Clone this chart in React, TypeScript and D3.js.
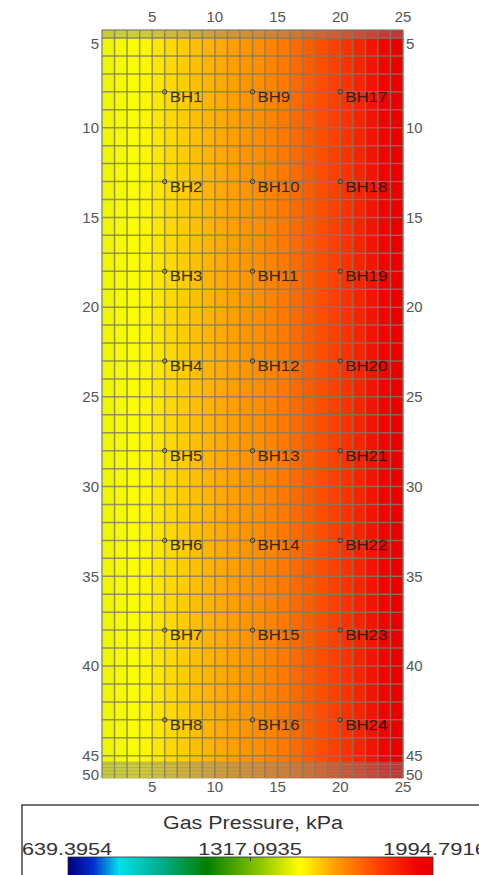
import React from "react";
import * as d3 from "d3";

// ---- data ----
const xTicks = [5, 10, 15, 20, 25];
const yTicks = [5, 10, 15, 20, 25, 30, 35, 40, 45, 50];
// gas pressure (kPa) per grid column, x = 1..25 (24 cells)
const columnPressure = [
  1478, 1486, 1496, 1514, 1534, 1550, 1568, 1585, 1602, 1618, 1632, 1645,
  1659, 1676, 1697, 1720, 1744, 1768, 1794, 1824, 1857, 1893, 1934, 1975,
];
const xGrid = d3.range(1, 26);
const mainRowEdges = [...d3.range(5, 46), 45.35];
const topBandEdges = [4.55, 5];
const bottomBandEdges = [45.35, 46, 47, 48, 49, 50];
const bhCols = [6, 13, 20];
const bhRows = [8, 13, 18, 23, 28, 33, 38, 43];
const pMin = 639.3954;
const pMid = 1317.0935;
const pMax = 1994.7916;
const cbLabels = ["639.3954", "1317.0935", "1994.7916"];
const cmapStops = [0, 0.07, 0.14, 0.25, 0.38, 0.53, 0.635, 0.73, 0.85, 0.96, 1];
const cmapColors = [
  "#00007a", "#0030d0", "#00e0e8", "#00b090", "#008000", "#90c800",
  "#ffff00", "#ffa000", "#ff4000", "#f00000", "#e80000",
];

const W = 479;
const H = 875;
const FONT = "'Liberation Sans', Arial, Helvetica, sans-serif";

export default function App() {
  const x = d3.scaleLinear().domain([1, 25]).range([102, 403]);
  const y = d3
    .scaleLinear()
    .domain([4.55, 5, 45.35, 50])
    .range([30, 38, 762, 778]);
  const color = d3
    .scaleLinear<string>()
    .domain(cmapStops.map((t) => pMin + t * (pMax - pMin)))
    .range(cmapColors)
    .interpolate(d3.interpolateRgb);
  const grey = (c: string) => d3.interpolateRgb(c, "#8a8a8a")(0.4);

  const cells: React.ReactNode[] = [];
  columnPressure.forEach((p, i) => {
    const x0 = x(xGrid[i]);
    const x1 = x(xGrid[i + 1]);
    const c = color(p);
    const addRows = (edges: number[], fill: string, key: string) => {
      for (let k = 0; k < edges.length - 1; k++) {
        const y0 = y(edges[k]);
        const y1 = y(edges[k + 1]);
        cells.push(
          <rect key={`${key}-${i}-${k}`} x={x0} y={y0} width={x1 - x0 + 0.3} height={y1 - y0 + 0.3} fill={fill} />
        );
      }
    };
    addRows(mainRowEdges, c, "m");
    addRows(topBandEdges, grey(c), "t");
    addRows(bottomBandEdges, grey(c), "b");
  });

  const mainLines = [...topBandEdges, ...mainRowEdges.slice(1, -1)];
  const bandLines = bottomBandEdges;
  const yTop = y(4.55);
  const yBot = y(50);

  const cbX0 = 68;
  const cbX1 = 433;
  const cbPos = d3.scaleLinear().domain([pMin, pMax]).range([cbX0, cbX1]);

  const labelY = (v: number) => Math.min(Math.max(y(v), 44), 775);

  return (
    <svg width={W} height={H} style={{ position: "absolute", left: 0, top: 0, background: "#fff" }} fontFamily={FONT}>
      <defs>
        <linearGradient id="cmap" x1="0" x2="1" y1="0" y2="0">
          {cmapStops.map((t, i) => (
            <stop key={i} offset={t} stopColor={cmapColors[i]} />
          ))}
        </linearGradient>
      </defs>
      <g>{cells}</g>
      <g stroke="#7a7a6a" strokeWidth={1.5} strokeOpacity={0.8}>
        {xGrid.map((v) => (
          <line key={`gx${v}`} x1={x(v)} x2={x(v)} y1={yTop} y2={yBot} />
        ))}
        {mainLines.map((v, i) => (
          <line key={`gy${i}`} x1={x(1)} x2={x(25)} y1={y(v)} y2={y(v)} />
        ))}
      </g>
      <g stroke="#7a7a6a" strokeWidth={0.8} strokeOpacity={0.45}>
        {bandLines.map((v, i) => (
          <line key={`by${i}`} x1={x(1)} x2={x(25)} y1={y(v)} y2={y(v)} />
        ))}
      </g>
      {/* boreholes */}
      <g>
        {bhCols.map((cx, ci) =>
          bhRows.map((ry, ri) => {
            const px = x(cx);
            const py = y(ry);
            const name = `BH${ci * bhRows.length + ri + 1}`;
            return (
              <g key={name}>
                <circle cx={px} cy={py} r={2.2} fill="none" stroke="#333" strokeWidth={1} />
                <text
                  transform={`translate(${px + 5},${py + 10}) scale(1.2,1)`}
                  fontSize={14}
                  fill="#1a1a1a"
                  fillOpacity={0.85}
                  stroke="#1a1a1a"
                  strokeOpacity={0.25}
                  strokeWidth={0.4}
                >
                  {name}
                </text>
              </g>
            );
          })
        )}
      </g>
      {/* axis labels */}
      <g fontSize={15} fill="#555">
        {xTicks.map((v) => (
          <text key={`tt${v}`} x={x(v)} y={22} textAnchor="middle">
            {v}
          </text>
        ))}
        {xTicks.map((v) => (
          <text key={`bt${v}`} x={x(v)} y={792} textAnchor="middle">
            {v}
          </text>
        ))}
        {yTicks.map((v) => (
          <text key={`lt${v}`} x={99} y={labelY(v)} dy="0.35em" textAnchor="end">
            {v}
          </text>
        ))}
        {yTicks.map((v) => (
          <text key={`rt${v}`} x={406} y={labelY(v)} dy="0.35em" textAnchor="start">
            {v}
          </text>
        ))}
      </g>
      {/* colorbar box */}
      <rect x={22} y={805} width={480} height={100} fill="#fff" stroke="#444" strokeWidth={1.5} />
      <text x={163} y={829} fontSize={18} fill="#333" textLength={180} lengthAdjust="spacingAndGlyphs">
        Gas Pressure, kPa
      </text>
      <text x={22} y={855} fontSize={17} fill="#333" textLength={90} lengthAdjust="spacingAndGlyphs">
        {cbLabels[0]}
      </text>
      <text x={198} y={855} fontSize={17} fill="#333" textLength={104} lengthAdjust="spacingAndGlyphs">
        {cbLabels[1]}
      </text>
      <text x={383} y={855} fontSize={17} fill="#333" textLength={104} lengthAdjust="spacingAndGlyphs">
        {cbLabels[2]}
      </text>
      <rect x={cbX0} y={857} width={cbX1 - cbX0} height={30} fill="url(#cmap)" stroke="#333" strokeWidth={0.8} />
      <line x1={cbPos(pMid)} x2={cbPos(pMid)} y1={857} y2={861} stroke="#333" strokeWidth={1} />
    </svg>
  );
}
